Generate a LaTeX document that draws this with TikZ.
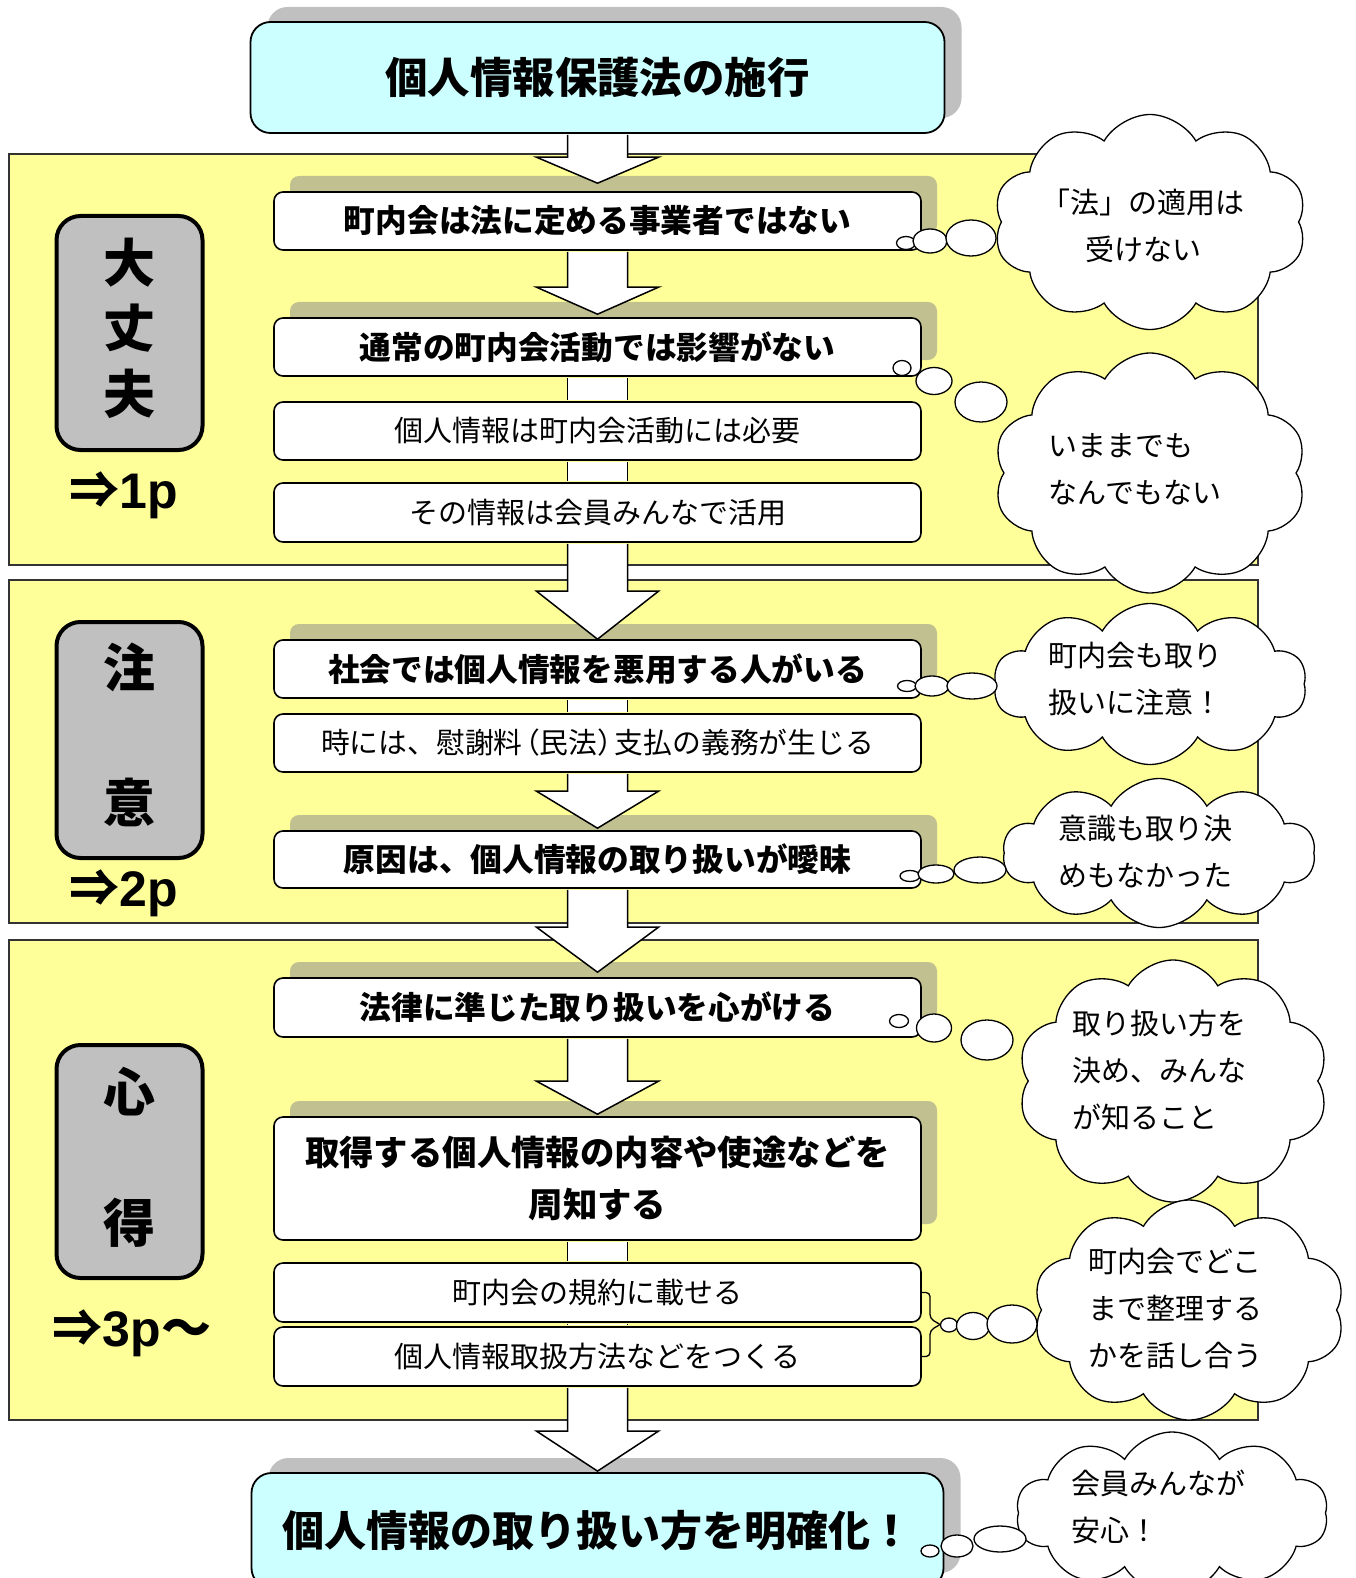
\documentclass[tikz,border=0pt]{standalone}
\usepackage{fontspec}
\newfontfamily\jp{Noto Sans CJK JP}
\newfontfamily\lib{Liberation Sans}
\usetikzlibrary{shapes.symbols,shadows}
\definecolor{yel}{RGB}{255,255,153}
\definecolor{cyanbox}{RGB}{204,255,255}
\definecolor{shgray}{RGB}{192,192,192}
\definecolor{shol}{RGB}{192,192,144}
\definecolor{lblgray}{RGB}{192,192,192}
\newcommand{\blkarrow}[4]{%
\draw[arr] ([xshift=-30pt,yshift=-1pt]#1.south) -- ([xshift=-30pt,yshift=#4pt]#2.north) -- ([xshift=-61pt,yshift=#4pt]#2.north) -- ([yshift=#3pt]#2.north) -- ([xshift=61pt,yshift=#4pt]#2.north) -- ([xshift=30pt,yshift=#4pt]#2.north) -- ([xshift=30pt,yshift=-1pt]#1.south);}
\newcommand{\shaftlink}[2]{%
\fill[white] ([xshift=-30pt,yshift=-1pt]#1.south) rectangle ([xshift=30pt,yshift=1pt]#2.north);
\draw[line width=1.5pt] ([xshift=-30pt,yshift=-0.8pt]#1.south) -- ([xshift=-30pt,yshift=0.8pt]#2.north) ([xshift=30pt,yshift=-0.8pt]#1.south) -- ([xshift=30pt,yshift=0.8pt]#2.north);}
\begin{document}
\begin{tikzpicture}[x=1pt,y=-1pt,
  panel/.style={draw=black!80, line width=1.3pt, fill=yel, minimum width=1249pt, inner sep=0},
  wbox/.style={draw, line width=1.6pt, fill=white, rounded corners=9pt, minimum width=647pt, inner sep=0, align=center},
  shbox/.style={wbox, general shadow={fill=shol, shadow xshift=16pt, shadow yshift=16pt}},
  cbox/.style={draw, line width=1.8pt, fill=cyanbox, rounded corners=20pt, inner sep=0, general shadow={fill=shgray, shadow xshift=17pt, shadow yshift=15pt}},
  bfont/.style={font=\jp\bfseries\fontsize{31.7}{38}\selectfont},
  nfont/.style={font=\jp\fontsize{29}{35}\selectfont},
  lbl/.style={draw, line width=4pt, fill=lblgray, rounded corners=24pt, inner sep=0, minimum width=146pt},
  lchar/.style={font=\jp\bfseries\fontsize{52}{52}\selectfont, inner sep=0},
  pref/.style={inner sep=0, font=\fontsize{50}{50}\selectfont},
  cl/.style={cloud, draw, fill=white, line width=1.3pt, cloud puffs=10, cloud puff arc=120, cloud ignores aspect, inner sep=0},
  ctext/.style={font=\jp\fontsize{29}{47}\selectfont, align=left, inner sep=0},
  bub/.style={draw, fill=white, line width=1.3pt},
  arr/.style={draw, fill=white, line width=1.5pt, line join=miter}
]
\useasboundingbox (0,0) rectangle (1356,1578);
\clip (0,0) rectangle (1356,1578);

% panels
\node[panel, minimum height=411pt] (p1) at (633.5,359.5) {};
\node[panel, minimum height=343pt] (p2) at (633.5,751.5) {};
\node[panel, minimum height=480pt] (p3) at (633.5,1180) {};

% side labels
\node[lbl, minimum height=234pt] (l1) at (129.5,333) {};
\node[lbl, minimum height=236pt] (l2) at (129.5,740) {};
\node[lbl, minimum height=233pt] (l3) at (129.5,1161.5) {};
\node[lchar] (l1a) at (129.5,263) {大};
\node[lchar] (l1b) at (129.5,328) {丈};
\node[lchar] (l1c) at (129.5,394) {夫};
\node[lchar] (l2a) at (129.5,667) {注};
\node[lchar] (l2b) at (129.5,802) {意};
\node[lchar] (l3a) at (129.5,1092) {心};
\node[lchar] (l3b) at (129.5,1223) {得};
\node[pref] (r1) at (124,495) {{\jp\bfseries ⇒}{\lib\bfseries 1p}};
\node[pref] (r2) at (124,893) {{\jp\bfseries ⇒}{\lib\bfseries 2p}};
\node[pref] (r3) at (132,1333) {{\jp\bfseries ⇒}{\lib\bfseries 3p}{\jp\bfseries ～}};

% top and bottom boxes
\node[cbox, minimum width=694pt, minimum height=111pt, font=\jp\bfseries\fontsize{42.4}{48}\selectfont] (top) at (597.5,77.5) {個人情報保護法の施行};
\node[cbox, minimum width=692pt, minimum height=115pt, font=\jp\bfseries\fontsize{42}{48}\selectfont] (bot) at (597.5,1530.5) {個人情報の取り扱い方を明確化！};

% step boxes
\node[shbox, bfont, minimum height=58pt] (b1) at (597.5,221) {町内会は法に定める事業者ではない};
\node[shbox, bfont, minimum height=58pt] (b2) at (597.5,347) {通常の町内会活動では影響がない};
\node[wbox, nfont, minimum height=58pt] (b3) at (597.5,431) {個人情報は町内会活動には必要};
\node[wbox, nfont, minimum height=59pt] (b4) at (597.5,512.5) {その情報は会員みんなで活用};
\node[shbox, bfont, minimum height=58pt] (b5) at (597.5,669) {社会では個人情報を悪用する人がいる};
\node[wbox, font=\jp\fontsize{28.8}{35}\selectfont, minimum height=58pt] (b6) at (597.5,743) {時には、慰謝料\kern-0.4em（民法）\kern-0.4em 支払の義務が生じる};
\node[shbox, bfont, minimum height=57pt] (b7) at (597.5,859.5) {原因は、個人情報の取り扱いが曖昧};
\node[shbox, bfont, minimum height=59pt] (b8) at (597.5,1007.5) {法律に準じた取り扱いを心がける};
\node[shbox, font=\jp\bfseries\fontsize{34.4}{52}\selectfont, minimum height=123pt] (b9) at (597.5,1178.5) {取得する個人情報の内容や使途などを\\周知する};
\node[wbox, nfont, minimum height=59pt] (b10) at (597.5,1292.5) {町内会の規約に載せる};
\node[wbox, nfont, minimum height=59pt] (b11) at (597.5,1356.5) {個人情報取扱方法などをつくる};

% arrows and links
\blkarrow{top}{b1}{8}{34}
\blkarrow{b1}{b2}{3}{30}
\shaftlink{b2}{b3}
\shaftlink{b3}{b4}
\blkarrow{b4}{b5}{0}{48}
\shaftlink{b5}{b6}
\blkarrow{b6}{b7}{2}{39}
\blkarrow{b7}{b8}{5}{50}
\blkarrow{b8}{b9}{2}{35}
\shaftlink{b9}{b10}
\shaftlink{b10}{b11}
\blkarrow{b11}{bot}{1}{41}

% brace
\coordinate (brm) at (940,1324.5);
\draw[line width=1.3pt, rounded corners=4pt] (b10.east) -- (930,1292.5) -- (930,1318.5) -- (brm);
\draw[line width=1.3pt, rounded corners=4pt] (b11.east) -- (930,1356.5) -- (930,1330.5) -- (brm);

% clouds
\node[cl, minimum width=313pt, minimum height=215pt] (c1) at (1150,222) {};
\node[cl, minimum width=313pt, minimum height=240pt] (c2) at (1150,473) {};
\node[cl, minimum width=313pt, minimum height=161pt] (c3) at (1150,684) {};
\node[cl, minimum width=312pt, minimum height=149pt] (c4) at (1159,853) {};
\node[cl, minimum width=311pt, minimum height=242pt] (c5) at (1173,1081) {};
\node[cl, minimum width=312pt, minimum height=220pt] (c6) at (1189,1310) {};
\node[cl, minimum width=312pt, minimum height=162pt] (c7) at (1172,1513) {};

% thought bubbles
\draw[bub] (906,243) ellipse [x radius=9.5pt, y radius=6.5pt];
\draw[bub] (930,241) ellipse [x radius=17pt, y radius=12pt];
\draw[bub] (971,238) ellipse [x radius=25pt, y radius=18pt];
\draw[bub] (902,368) ellipse [x radius=9pt, y radius=7.5pt];
\draw[bub] (934,381) ellipse [x radius=18pt, y radius=13.5pt];
\draw[bub] (981,402) ellipse [x radius=26pt, y radius=20pt];
\draw[bub] (907,686) ellipse [x radius=9.5pt, y radius=5.5pt];
\draw[bub] (932,686) ellipse [x radius=17pt, y radius=10pt];
\draw[bub] (972,686) ellipse [x radius=25pt, y radius=13pt];
\draw[bub] (910,876) ellipse [x radius=10pt, y radius=5.5pt];
\draw[bub] (936,874) ellipse [x radius=18pt, y radius=9pt];
\draw[bub] (980,870) ellipse [x radius=26pt, y radius=13pt];
\draw[bub] (899,1021) ellipse [x radius=9.5pt, y radius=6.5pt];
\draw[bub] (934,1028) ellipse [x radius=17.5pt, y radius=14pt];
\draw[bub] (987,1040) ellipse [x radius=26pt, y radius=20pt];
\draw[bub] (949,1325) ellipse [x radius=8.5pt, y radius=7pt];
\draw[bub] (973,1326) ellipse [x radius=16.5pt, y radius=13.5pt];
\draw[bub] (1012,1324) ellipse [x radius=25pt, y radius=19pt];
\draw[bub] (930,1551) ellipse [x radius=9pt, y radius=6pt];
\draw[bub] (957,1546) ellipse [x radius=16pt, y radius=11pt];
\draw[bub] (1000,1539) ellipse [x radius=26pt, y radius=13pt];

% cloud texts
\node[ctext, align=center] (t1) at (1143,225.5) {「法」の適用は\\受けない};
\node[ctext, anchor=west] (t2) at (1048.5,469) {いままでも\\なんでもない};
\node[ctext, anchor=west] (t3) at (1048.5,679) {町内会も取り\\扱いに注意！};
\node[ctext, anchor=west] (t4) at (1058.5,851.5) {意識も取り決\\めもなかった};
\node[ctext, anchor=west] (t5) at (1072.5,1070.5) {取り扱い方を\\決め、みんな\\が知ること};
\node[ctext, anchor=west] (t6) at (1088.5,1308.5) {町内会でどこ\\まで整理する\\かを話し合う};
\node[ctext, anchor=west] (t7) at (1071.5,1506.5) {会員みんなが\\安心！};
\end{tikzpicture}
\end{document}
